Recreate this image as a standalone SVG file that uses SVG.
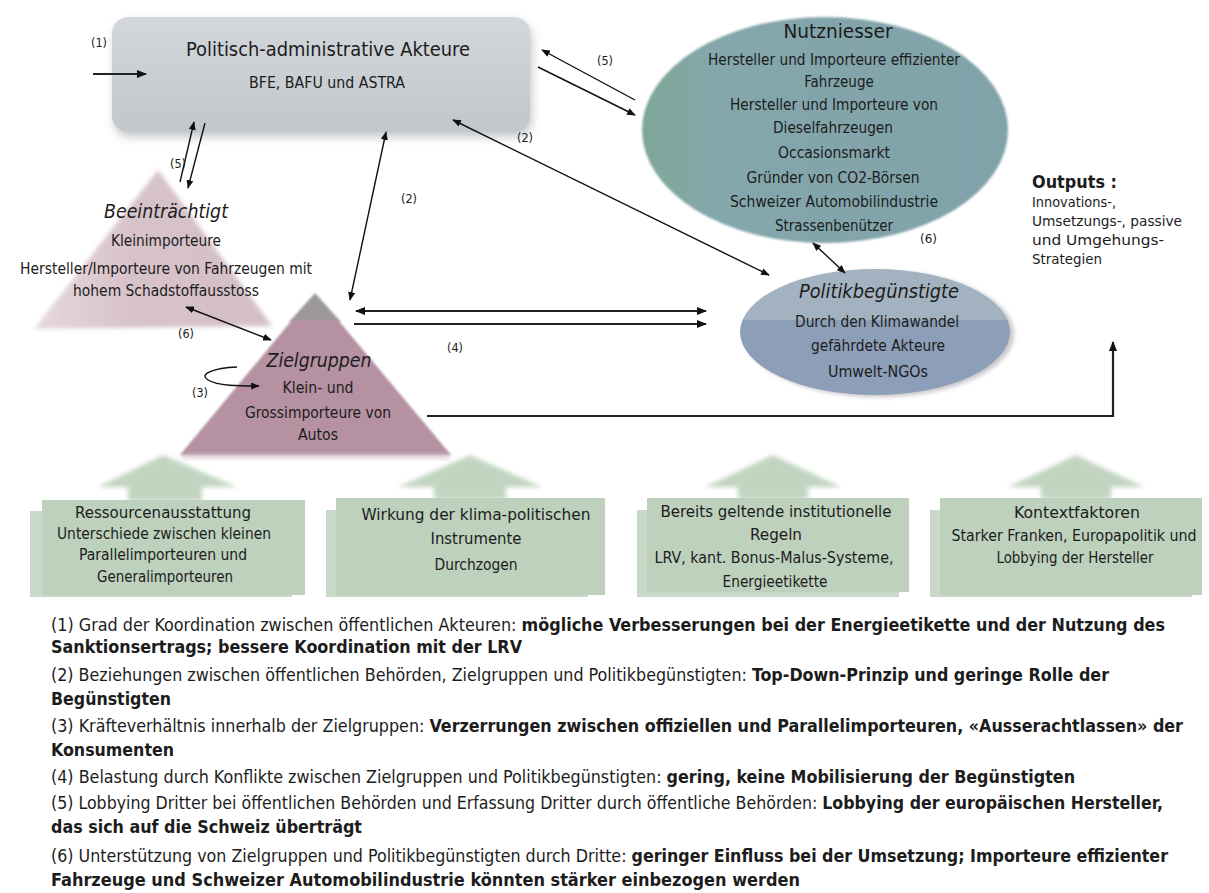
<svg xmlns="http://www.w3.org/2000/svg" width="1209" height="893" viewBox="0 0 1209 893">
<style>
text{font-family:"Liberation Sans Narrow","DejaVu Sans Condensed","Liberation Sans",sans-serif;fill:#1c1c1c;}
.c{text-anchor:middle;}
.it{font-style:italic;}
.b{font-weight:bold;}
.s13{font-size:13px;}
.s15{font-size:15px;}
.s19{font-size:19px;}
.s20{font-size:20px;}
.leg{font-size:17px;}
.ln{fill:none;stroke:#111;stroke-width:1.4;}
.lnb{fill:none;stroke:#222;stroke-width:2.2;}
.grn{fill:#bdd1bc;}
.grn2{fill:#c9d9c7;}
.gh{fill:#c2d5c1;filter:url(#soft);}
</style>
<defs>
<marker id="ah" viewBox="0 0 10 8" refX="9" refY="4" markerWidth="9" markerHeight="7" markerUnits="userSpaceOnUse" orient="auto-start-reverse"><path d="M0,0 L10,4 L0,8 z" fill="#111"/></marker>
<marker id="ahb" viewBox="0 0 10 8" refX="9" refY="4" markerWidth="10" markerHeight="8" markerUnits="userSpaceOnUse" orient="auto-start-reverse"><path d="M0,0 L10,4 L0,8 z" fill="#111"/></marker>
<filter id="shadow" x="-10%" y="-20%" width="125%" height="150%"><feDropShadow dx="2" dy="5" stdDeviation="5" flood-color="#7d8287" flood-opacity="0.45"/></filter>
<filter id="soft" x="-10%" y="-20%" width="120%" height="140%"><feGaussianBlur stdDeviation="2.2"/></filter>
<filter id="soft1" x="-10%" y="-10%" width="120%" height="120%"><feGaussianBlur stdDeviation="1.2"/></filter>
<linearGradient id="gBox" x1="0" y1="0" x2="0" y2="1"><stop offset="0" stop-color="#d3d7db"/><stop offset="1" stop-color="#c2c7cc"/></linearGradient>
<linearGradient id="gNutz" x1="0" y1="0" x2="1" y2="0"><stop offset="0" stop-color="#7fa796"/><stop offset="0.2" stop-color="#84a7ac"/><stop offset="1" stop-color="#80a2a9"/></linearGradient>
<linearGradient id="gPink" x1="0" y1="0" x2="1" y2="0"><stop offset="0" stop-color="#e6d9dd"/><stop offset="0.4" stop-color="#d8c3ca"/><stop offset="1" stop-color="#d4bfc6"/></linearGradient>
<clipPath id="cpUp"><rect x="700" y="260" width="330" height="60"/></clipPath>
<clipPath id="cpLo"><rect x="700" y="320" width="330" height="90"/></clipPath>
</defs>
<rect width="1209" height="893" fill="#ffffff"/>

<g id="node-politisch">
<rect x="112" y="17" width="418" height="115" rx="16" fill="url(#gBox)" filter="url(#shadow)"/>
<text class="c s20" x="328" y="56" textLength="284" lengthAdjust="spacingAndGlyphs">Politisch-administrative Akteure</text>
<text class="c s15" x="327" y="88" textLength="156" lengthAdjust="spacingAndGlyphs">BFE, BAFU und ASTRA</text>
</g>

<g id="node-nutzniesser">
<ellipse cx="825" cy="130" rx="183" ry="113" fill="url(#gNutz)" filter="url(#soft1)"/>
<text class="c s19" x="838" y="38" textLength="109" lengthAdjust="spacingAndGlyphs">Nutzniesser</text>
<text class="c s15" x="834" y="65" textLength="252" lengthAdjust="spacingAndGlyphs">Hersteller und Importeure effizienter</text>
<text class="c s15" x="839" y="87">Fahrzeuge</text>
<text class="c s15" x="834" y="110" textLength="208" lengthAdjust="spacingAndGlyphs">Hersteller und Importeure von</text>
<text class="c s15" x="833" y="133" textLength="120" lengthAdjust="spacingAndGlyphs">Dieselfahrzeugen</text>
<text class="c s15" x="834" y="158" textLength="112" lengthAdjust="spacingAndGlyphs">Occasionsmarkt</text>
<text class="c s15" x="833" y="183" textLength="173" lengthAdjust="spacingAndGlyphs">Gründer von CO2-Börsen</text>
<text class="c s15" x="834" y="207" textLength="208" lengthAdjust="spacingAndGlyphs">Schweizer Automobilindustrie</text>
<text class="c s15" x="834" y="231" textLength="118" lengthAdjust="spacingAndGlyphs">Strassenbenützer</text>
</g>

<g id="node-politikbeguenstigte">
<ellipse cx="879" cy="334" rx="135" ry="63" fill="#8f8f95" opacity="0.5" filter="url(#soft)"/>
<ellipse cx="875" cy="332" rx="135" ry="63" fill="#a3b2c0" clip-path="url(#cpUp)"/>
<ellipse cx="875" cy="332" rx="135" ry="63" fill="#8d9eb8" clip-path="url(#cpLo)"/>
<text class="c s20 it" x="879" y="298" textLength="160" lengthAdjust="spacingAndGlyphs">Politikbegünstigte</text>
<text class="c s15" x="877" y="327" textLength="164" lengthAdjust="spacingAndGlyphs">Durch den Klimawandel</text>
<text class="c s15" x="878" y="351" textLength="134" lengthAdjust="spacingAndGlyphs">gefährdete Akteure</text>
<text class="c s15" x="878" y="377" textLength="100" lengthAdjust="spacingAndGlyphs">Umwelt-NGOs</text>
</g>

<g id="node-beeintraechtigt">
<polygon points="158,170 34,329 272,326" fill="url(#gPink)" filter="url(#soft)"/>
<text class="c s20 it" x="166" y="218" textLength="124" lengthAdjust="spacingAndGlyphs">Beeinträchtigt</text>
<text class="c s15" x="166" y="246" textLength="110" lengthAdjust="spacingAndGlyphs">Kleinimporteure</text>
<text class="c s15" x="166" y="274" textLength="292" lengthAdjust="spacingAndGlyphs">Hersteller/Importeure von Fahrzeugen mit</text>
<text class="c s15" x="166" y="296" textLength="186" lengthAdjust="spacingAndGlyphs">hohem Schadstoffausstoss</text>
</g>

<g id="node-zielgruppen">
<polygon points="315,293 289,322 341,322" fill="#9d999b" filter="url(#soft1)"/>
<polygon points="292,320 338,320 451,455 180,455" fill="#b591a2" filter="url(#soft1)"/>
<rect x="182" y="453" width="268" height="6" fill="#c9b6c0" opacity="0.6" filter="url(#soft)"/>
<text class="c s19 it" x="319" y="367" textLength="105" lengthAdjust="spacingAndGlyphs">Zielgruppen</text>
<text class="c s15" x="318" y="393" textLength="71" lengthAdjust="spacingAndGlyphs">Klein- und</text>
<text class="c s15" x="318" y="418" textLength="146" lengthAdjust="spacingAndGlyphs">Grossimporteure von</text>
<text class="c s15" x="318" y="440" textLength="40" lengthAdjust="spacingAndGlyphs">Autos</text>
</g>

<g id="node-outputs">
<text class="b" x="1032" y="188" style="font-size:17px" textLength="85" lengthAdjust="spacingAndGlyphs">Outputs :</text>
<text style="font-size:14.5px" x="1032" y="207" textLength="84" lengthAdjust="spacingAndGlyphs">Innovations-,</text>
<text style="font-size:14.5px" x="1032" y="226" textLength="150" lengthAdjust="spacingAndGlyphs">Umsetzungs-, passive</text>
<text style="font-size:14.5px" x="1032" y="245" textLength="132" lengthAdjust="spacingAndGlyphs">und Umgehungs-</text>
<text style="font-size:14.5px" x="1032" y="264" textLength="70" lengthAdjust="spacingAndGlyphs">Strategien</text>
</g>

<g id="node-ressourcen">
<polygon class="gh" points="163,455 98,487 128,487 128,501 202,501 202,487 237,487"/>
<rect class="grn2" x="30" y="511" width="262" height="86"/>
<rect class="grn" x="42" y="500" width="263" height="95"/>
<text class="c s15" x="163" y="518" textLength="176" lengthAdjust="spacingAndGlyphs">Ressourcenausstattung</text>
<text class="c s15" x="164" y="539" textLength="214" lengthAdjust="spacingAndGlyphs">Unterschiede zwischen kleinen</text>
<text class="c s15" x="163" y="560" textLength="168" lengthAdjust="spacingAndGlyphs">Parallelimporteuren und</text>
<text class="c s15" x="165" y="582" textLength="136" lengthAdjust="spacingAndGlyphs">Generalimporteuren</text>
</g>

<g id="node-wirkung">
<polygon class="gh" points="470,455 398,487 434,487 434,499 506,499 506,487 542,487"/>
<rect class="grn2" x="326" y="510" width="262" height="87"/>
<rect class="grn" x="336" y="498" width="269" height="97"/>
<text class="c s15" x="476" y="520" textLength="229" lengthAdjust="spacingAndGlyphs">Wirkung der klima-politischen</text>
<text class="c s15" x="476" y="544" textLength="91" lengthAdjust="spacingAndGlyphs">Instrumente</text>
<text class="c s15" x="476" y="570" textLength="83" lengthAdjust="spacingAndGlyphs">Durchzogen</text>
</g>

<g id="node-regeln">
<polygon class="gh" points="773,455 705,487 738,487 738,499 808,499 808,487 841,487"/>
<rect class="grn2" x="637" y="510" width="262" height="87"/>
<rect class="grn" x="647" y="498" width="262" height="94"/>
<text class="c s15" x="776" y="517" textLength="231" lengthAdjust="spacingAndGlyphs">Bereits geltende institutionelle</text>
<text class="c s15" x="776" y="540" textLength="52" lengthAdjust="spacingAndGlyphs">Regeln</text>
<text class="c s15" x="774" y="563" textLength="239" lengthAdjust="spacingAndGlyphs">LRV, kant. Bonus-Malus-Systeme,</text>
<text class="c s15" x="775" y="587" textLength="105" lengthAdjust="spacingAndGlyphs">Energieetikette</text>
</g>

<g id="node-kontext">
<polygon class="gh" points="1076,455 1008,487 1041,487 1041,499 1111,499 1111,487 1144,487"/>
<rect class="grn2" x="930" y="510" width="262" height="87"/>
<rect class="grn" x="940" y="498" width="262" height="97"/>
<text class="c s15" x="1077" y="518" textLength="126" lengthAdjust="spacingAndGlyphs">Kontextfaktoren</text>
<text class="c s15" x="1074" y="541" textLength="245" lengthAdjust="spacingAndGlyphs">Starker Franken, Europapolitik und</text>
<text class="c s15" x="1075" y="563" textLength="157" lengthAdjust="spacingAndGlyphs">Lobbying der Hersteller</text>
</g>

<g id="connectors">
<path class="lnb" d="M93,74 L146,74" marker-end="url(#ahb)"/>
<path class="ln" d="M180,182 L194,122" marker-end="url(#ah)"/>
<path class="ln" d="M205,123 L188,188" marker-end="url(#ah)"/>
<path class="ln" d="M386,132 L350,300" marker-start="url(#ah)" marker-end="url(#ah)"/>
<path class="ln" d="M453,120 L769,275" marker-start="url(#ah)" marker-end="url(#ah)"/>
<path class="ln" d="M635,100 L542,50" marker-end="url(#ah)"/>
<path class="ln" d="M538,67 L635,115" marker-end="url(#ah)"/>
<path class="ln" d="M813,243 L845,273" marker-start="url(#ah)" marker-end="url(#ah)"/>
<path class="ln" d="M186,307 L271,340" marker-start="url(#ah)" marker-end="url(#ah)"/>
<path class="ln" d="M237,367 C214,368 198,374 208,380 C218,386 238,386 259,386" marker-end="url(#ah)"/>
<path class="lnb" d="M356,311 L706,311" marker-start="url(#ahb)" marker-end="url(#ahb)"/>
<path class="lnb" d="M354,324 L706,324" marker-end="url(#ahb)"/>
<path class="lnb" d="M427,416 H1113 V342" marker-end="url(#ahb)"/>
</g>

<g id="connector-labels">
<text class="s13" x="91" y="47" textLength="16" lengthAdjust="spacingAndGlyphs">(1)</text>
<text class="s13" x="170" y="168" textLength="16" lengthAdjust="spacingAndGlyphs">(5)</text>
<text class="s13" x="401" y="203" textLength="16" lengthAdjust="spacingAndGlyphs">(2)</text>
<text class="s13" x="517" y="142" textLength="16" lengthAdjust="spacingAndGlyphs">(2)</text>
<text class="s13" x="597" y="65" textLength="16" lengthAdjust="spacingAndGlyphs">(5)</text>
<text class="s13" x="920" y="243" textLength="17" lengthAdjust="spacingAndGlyphs">(6)</text>
<text class="s13" x="178" y="338" textLength="16" lengthAdjust="spacingAndGlyphs">(6)</text>
<text class="s13" x="192" y="397" textLength="16" lengthAdjust="spacingAndGlyphs">(3)</text>
<text class="s13" x="447" y="352" textLength="16" lengthAdjust="spacingAndGlyphs">(4)</text>
</g>

<g id="legend" class="leg">
<text x="51" y="631" textLength="1114" lengthAdjust="spacingAndGlyphs">(1) Grad der Koordination zwischen öffentlichen Akteuren: <tspan class="b">mögliche Verbesserungen bei der Energieetikette und der Nutzung des</tspan></text>
<text class="b" x="51" y="653" textLength="471" lengthAdjust="spacingAndGlyphs">Sanktionsertrags; bessere Koordination mit der LRV</text>
<text x="51" y="681" textLength="1058" lengthAdjust="spacingAndGlyphs">(2) Beziehungen zwischen öffentlichen Behörden, Zielgruppen und Politikbegünstigten: <tspan class="b">Top-Down-Prinzip und geringe Rolle der</tspan></text>
<text class="b" x="51" y="705" textLength="120" lengthAdjust="spacingAndGlyphs">Begünstigten</text>
<text x="51" y="732" textLength="1132" lengthAdjust="spacingAndGlyphs">(3) Kräfteverhältnis innerhalb der Zielgruppen: <tspan class="b">Verzerrungen zwischen offiziellen und Parallelimporteuren, «Ausserachtlassen» der</tspan></text>
<text class="b" x="51" y="756" textLength="123" lengthAdjust="spacingAndGlyphs">Konsumenten</text>
<text x="51" y="783" textLength="1024" lengthAdjust="spacingAndGlyphs">(4) Belastung durch Konflikte zwischen Zielgruppen und Politikbegünstigten: <tspan class="b">gering, keine Mobilisierung der Begünstigten</tspan></text>
<text x="51" y="809" textLength="1112" lengthAdjust="spacingAndGlyphs">(5) Lobbying Dritter bei öffentlichen Behörden und Erfassung Dritter durch öffentliche Behörden: <tspan class="b">Lobbying der europäischen Hersteller,</tspan></text>
<text class="b" x="51" y="833" textLength="311" lengthAdjust="spacingAndGlyphs">das sich auf die Schweiz überträgt</text>
<text x="51" y="862" textLength="1117" lengthAdjust="spacingAndGlyphs">(6) Unterstützung von Zielgruppen und Politikbegünstigten durch Dritte: <tspan class="b">geringer Einfluss bei der Umsetzung; Importeure effizienter</tspan></text>
<text class="b" x="51" y="886" textLength="749" lengthAdjust="spacingAndGlyphs">Fahrzeuge und Schweizer Automobilindustrie könnten stärker einbezogen werden</text>
</g>
</svg>
